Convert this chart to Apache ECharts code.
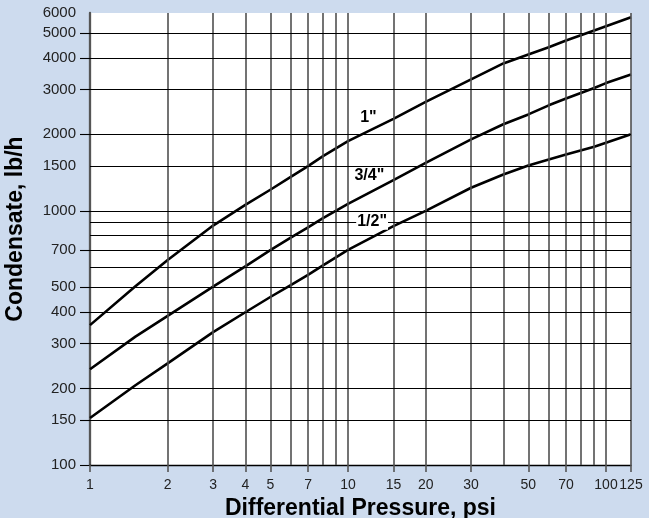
<!DOCTYPE html>
<html>
<head>
<meta charset="utf-8">
<script src="https://cdn.jsdelivr.net/npm/echarts@6/dist/echarts.min.js"></script>
<style>
  html, body { margin: 0; padding: 0; background: #cddbee; }
  #chart { width: 649px; height: 518px; }
</style>
</head>
<body>
<div id="chart"></div>
<script>
// Differential pressure (psi) at which each curve is sampled
const pressure = [1, 1.5, 2, 3, 4, 5, 6, 7, 8, 10, 15, 20, 30, 40, 50, 60, 70, 90, 100, 125];

// Condensate capacity (lb/h) by trap size
const flowOneInch      = [355, 505, 640, 875, 1055, 1210, 1360, 1500, 1640, 1880, 2300, 2680, 3290, 3800, 4120, 4400, 4680, 5120, 5320, 5770];
const flowThreeQuarter = [238, 320, 386, 503, 604, 700, 785, 860, 935, 1065, 1320, 1545, 1909, 2190, 2394, 2600, 2765, 3040, 3180, 3440];
const flowHalfInch     = [153, 206, 251, 333, 399, 458, 510, 560, 610, 702, 871, 1000, 1232, 1390, 1508, 1592, 1666, 1786, 1852, 2000];

const sizeNames = ['1"', '3/4"', '1/2"'];

// Axis ticks, labels and grid lines
const xTickLabels = [1, 2, 3, 4, 5, 7, 10, 15, 20, 30, 50, 70, 100, 125];
const xGridValues = [2, 3, 4, 5, 6, 7, 8, 9, 10, 15, 20, 30, 40, 50, 60, 70, 80, 90, 100, 125];
const yTickLabels = [100, 150, 200, 300, 400, 500, 700, 1000, 1500, 2000, 3000, 4000, 5000, 6000];
const yTickMarks  = [100, 150, 200, 300, 400, 500, 700, 1000, 2000, 3000, 4000, 5000];
const yGridValues = [150, 200, 300, 400, 500, 600, 700, 800, 900, 1000, 1500, 2000, 3000, 4000, 5000];

const FONT = '"Liberation Sans", Arial, Helvetica, sans-serif';

function pairs(xs, ys) { return xs.map((x, i) => [x, ys[i]]); }

function curve(name, values, labelAt, boxed) {
  return {
    type: 'line', name: name, z: 4,
    data: pairs(pressure, values),
    smooth: false,
    showSymbol: false, silent: true, animation: false,
    lineStyle: { color: '#000', width: 2.6, join: 'round' },
    markPoint: {
      silent: true, animation: false, symbol: 'circle', symbolSize: 0,
      data: [{ coord: labelAt, value: name }],
      label: {
        show: true, position: 'inside', formatter: name,
        fontFamily: FONT, fontWeight: 'bold', fontSize: 16, color: '#000',
        backgroundColor: boxed ? '#fff' : 'transparent', padding: [0, 1]
      }
    }
  };
}

const chart = echarts.init(document.getElementById('chart'), null, { renderer: 'canvas' });

chart.setOption({
  backgroundColor: '#cddbee',
  animation: false,
  grid: {
    left: 90, right: 18, top: 13, bottom: 53,
    outerBoundsMode: 'none', containLabel: false,
    show: true, backgroundColor: '#fff', borderWidth: 0
  },
  xAxis: {
    type: 'log', logBase: 10, min: 1, max: 125,
    name: 'Differential Pressure, psi', nameLocation: 'middle', nameGap: 30,
    nameTextStyle: { fontFamily: FONT, fontWeight: 'bold', fontSize: 23, color: '#000' },
    axisLine: { show: true, lineStyle: { color: '#000', width: 1.4 } },
    axisTick: { show: true, length: 7, customValues: xTickLabels, lineStyle: { color: '#555', width: 1.6 } },
    axisLabel: { customValues: xTickLabels, margin: 13, fontFamily: FONT, fontSize: 14, color: '#222',
                 hideOverlap: false, showMinLabel: true, showMaxLabel: true,
                 formatter: v => String(v) },
    splitLine: { show: false }, minorTick: { show: false }
  },
  yAxis: {
    type: 'log', logBase: 10, min: 100, max: 6000,
    name: 'Condensate, lb/h', nameLocation: 'middle', nameGap: 63,
    nameTextStyle: { fontFamily: FONT, fontWeight: 'bold', fontSize: 23, color: '#000', padding: [0, 0, 0, 20] },
    axisLine: { show: true, lineStyle: { color: '#555', width: 2.3 } },
    axisTick: { show: true, length: 10, customValues: yTickMarks, lineStyle: { color: '#000', width: 1.1 } },
    axisLabel: { customValues: yTickLabels, margin: 14, fontFamily: FONT, fontSize: 15, color: '#222',
                 hideOverlap: false, showMinLabel: true, showMaxLabel: true,
                 formatter: v => String(v) },
    splitLine: { show: false }, minorTick: { show: false }
  },
  series: [
    {
      // grid lines drawn through the axes' own scales
      type: 'line', z: 1, silent: true, animation: false,
      data: [[1, 100]], showSymbol: false, lineStyle: { opacity: 0 },
      markLine: {
        silent: true, animation: false, symbol: ['none', 'none'],
        label: { show: false },
        data: [
          ...xGridValues.map(v => ({ xAxis: v, lineStyle: { color: '#505050', width: 1.6, type: 'solid' } })),
          ...yGridValues.map(v => ({ yAxis: v, lineStyle: { color: '#000', width: 1.1, type: 'solid' } }))
        ]
      }
    },
    curve(sizeNames[0], flowOneInch, [12.0, 2320], false),
    curve(sizeNames[1], flowThreeQuarter, [12.1, 1370], false),
    curve(sizeNames[2], flowHalfInch, [12.4, 905], true)
  ]
});
</script>
</body>
</html>
